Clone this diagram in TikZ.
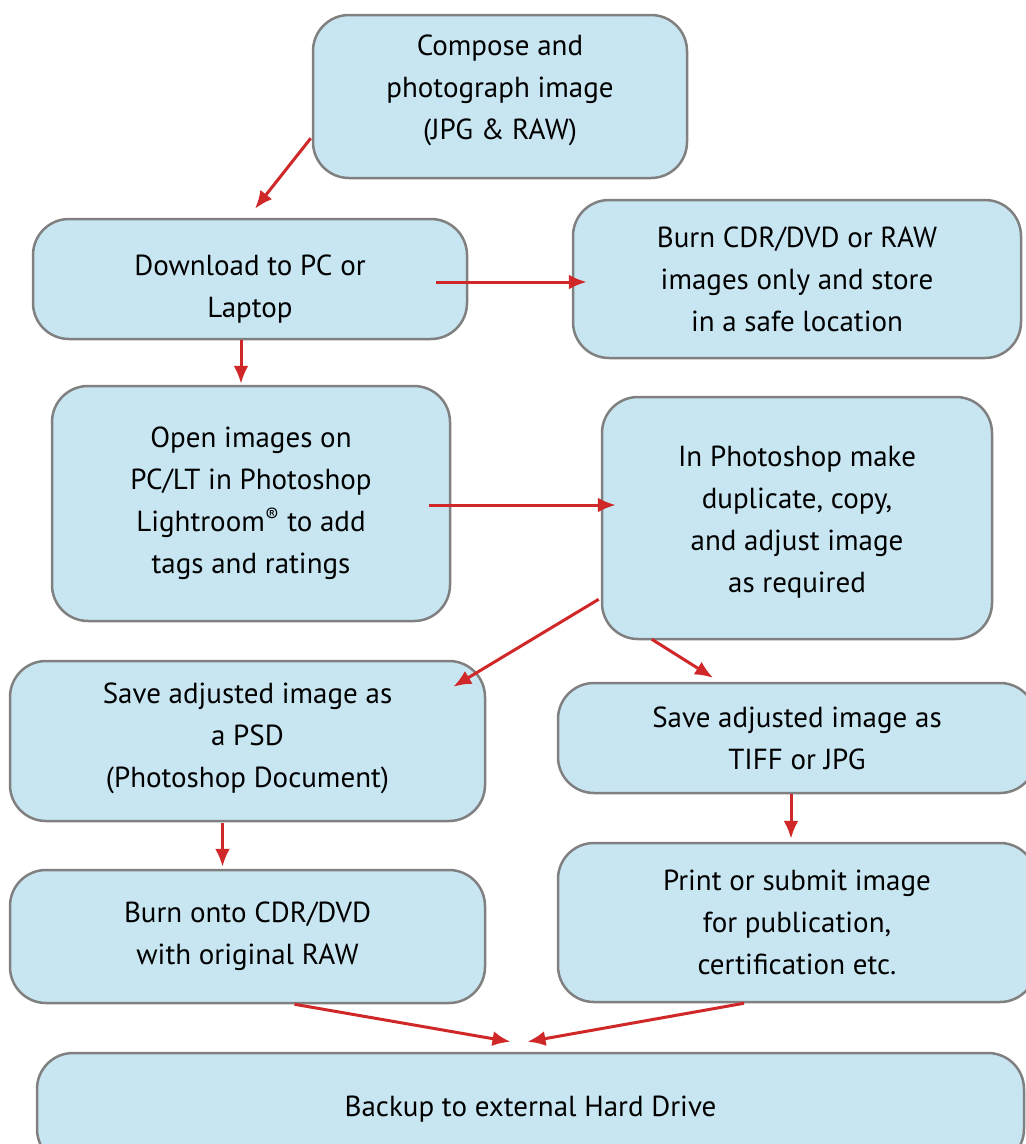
\documentclass[tikz,border=0pt]{standalone}
\usepackage{fontspec}
\setmainfont{PT Sans}
\definecolor{boxfill}{RGB}{200,230,241}
\definecolor{boxline}{RGB}{128,128,128}
\definecolor{flowred}{RGB}{208,40,40}
\tikzset{stepbox/.style = {draw=boxline, line width=2.5pt, fill=boxfill, rounded corners=36pt, align=center, inner sep=0pt, font=\fontsize{29}{42}\selectfont},
         flow/.style = {draw=flowred, line width=3pt, -{Latex[length=18pt,width=15pt]}}}
\usetikzlibrary{calc,arrows.meta}

\begin{document}
\begin{tikzpicture}[x=1pt, y=-1pt]
      \useasboundingbox (0,0) rectangle (1026,1144);
      \node [stepbox, minimum width=374pt, minimum height=163pt] (compose) at (500,96.5) {Compose and\\photograph image\\(JPG \& RAW)\rule[-18pt]{0pt}{18pt}};
      \node [stepbox, minimum width=434pt, minimum height=120pt] (dl) at (250,279) {\rule{0pt}{40pt}Download to PC or\\Laptop};
      \node [stepbox, minimum width=448pt, minimum height=158pt] (burnraw) at (797,279) {Burn CDR/DVD or RAW\\images only and store\\in a safe location};
      \node [stepbox, minimum width=398pt, minimum height=235pt] (openlr) at (251,503.5) {Open images on\\PC/LT in Photoshop\\Lightroom\textsuperscript{®} to add\\tags and ratings};
      \node [stepbox, minimum width=390pt, minimum height=242pt] (photo) at (797,518) {\rule{0pt}{28pt}In Photoshop make\\duplicate, copy,\\and adjust image\\as required};
      \node [stepbox, minimum width=475pt, minimum height=160pt] (psd) at (247.5,741) {Save adjusted image as\\a PSD\\(Photoshop Document)\rule[-12pt]{0pt}{12pt}};
      \node [stepbox, minimum width=478pt, minimum height=110pt] (tiff) at (797,738) {Save adjusted image as\\TIFF or JPG};
      \node [stepbox, minimum width=475pt, minimum height=133pt] (burnorig) at (247.5,936.5) {Burn onto CDR/DVD\\with original RAW};
      \node [stepbox, minimum width=478pt, minimum height=159pt] (print) at (797,922.5) {Print or submit image\\for publication,\\certification etc.};
      \node [stepbox, minimum width=987pt, minimum height=112pt] (backup) at (530.5,1109) {Backup to external Hard Drive};
      \draw [flow] ($(compose.south west)+(-1,-41)$) -- ($(dl.north)+(5,-9)$);
      \draw [flow] ($(dl.east)+(-32,3)$) -- ($(burnraw.west)+(15,3)$);
      \draw [flow] ($(dl.south)+(-9,0)$) -- ($(openlr.north)+(-10,-1)$);
      \draw [flow] ($(openlr.east)+(-22,1.5)$) -- ($(photo.west)+(15,-13)$);
      \draw [flow] ($(photo.south west)+(-2,-41)$) -- ($(psd.north east)+(-33,27)$);
      \draw [flow] ($(photo.south west)+(51,-1)$) -- ($(tiff.north)+(-84,-4)$);
      \draw [flow] ($(psd.south)+(-25,1)$) -- ($(burnorig.north)+(-25,-2)$);
      \draw [flow] ($(tiff.south)+(-6,0)$) -- ($(print.north)+(-6,-3)$);
      \draw [flow] ($(burnorig.south)+(47,0)$) -- ($(backup.north)+(-20,-10)$);
      \draw [flow] ($(print.south)+(-53,0)$) -- ($(backup.north)+(-3,-10)$);
    \end{tikzpicture}
\end{document}
